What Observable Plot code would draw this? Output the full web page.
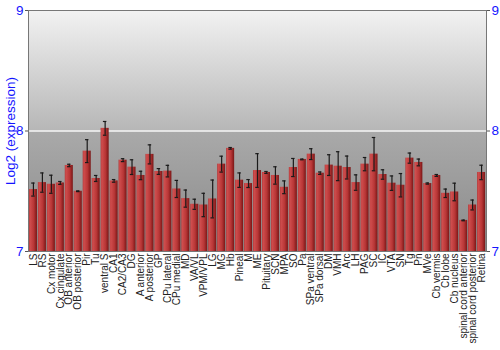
<!DOCTYPE html>
<html><head><meta charset="utf-8">
<script src="https://cdn.jsdelivr.net/npm/d3@7"></script>
<script src="https://cdn.jsdelivr.net/npm/@observablehq/plot@0.6"></script>
<style>
body{margin:0;background:#fff;}
#defs{position:absolute;left:0;top:0;width:0;height:0;}
</style>
</head><body>
<svg id="defs" width="0" height="0"><defs>
<linearGradient id="bg" x1="0" y1="0" x2="0" y2="1">
<stop offset="0" stop-color="#f2f2f2"/>
<stop offset="0.5" stop-color="#b6b6b6"/>
<stop offset="0.505" stop-color="#a9a9a9"/>
<stop offset="1" stop-color="#8a8a8a"/>
</linearGradient>
<linearGradient id="barGrad" x1="0" y1="0" x2="1" y2="0">
<stop offset="0" stop-color="#b03a3a"/>
<stop offset="0.15" stop-color="#cf4d4d"/>
<stop offset="0.6" stop-color="#b83636"/>
<stop offset="1" stop-color="#7a1616"/>
</linearGradient>
</defs></svg>
<div id="chart"></div>
<script>
const regions = ["LS","RS","Cx motor","Cx cingulate","OB anterior","OB posterior","Pir","Tu","ventral S","CA1","CA2/CA3","DG","A anterior","A posterior","GP","CPu lateral","CPu medial","MD","VA/VL","VPM/VPL","LG","MG","Hb","Pineal","M","ME","Pituitary","SCN","MPA","SO","Pa","SPa ventral","SPa dorsal","DM","VMH","Arc","LH","PAG","SC","IC","VTA","SN","Tg","Pn","MVe","Cb vermis","Cb lobe","Cb nucleus","spinal cord anterior","spinal cord posterior","Retina"];
const values = [7.514,7.572,7.558,7.569,7.714,7.500,7.833,7.606,8.022,7.586,7.758,7.700,7.631,7.806,7.664,7.667,7.519,7.439,7.392,7.386,7.436,7.725,7.856,7.592,7.564,7.672,7.656,7.631,7.533,7.697,7.764,7.808,7.650,7.717,7.708,7.697,7.572,7.725,7.808,7.639,7.567,7.550,7.775,7.739,7.564,7.631,7.483,7.494,7.258,7.386,7.656];
const errors = [0.054,0.080,0.075,0.012,0.010,0.003,0.095,0.025,0.057,0.011,0.012,0.061,0.035,0.079,0.024,0.048,0.071,0.071,0.042,0.097,0.157,0.066,0.007,0.060,0.033,0.140,0.008,0.072,0.053,0.075,0.003,0.045,0.010,0.086,0.120,0.095,0.064,0.055,0.138,0.039,0.060,0.097,0.042,0.028,0.005,0.008,0.035,0.073,0.003,0.041,0.060];
const yTicks = [7, 8, 9];
const yLabel = "Log2 (expression)";

const data = regions.map((r, i) => ({region: r, value: values[i], lo: values[i] - errors[i], hi: values[i] + errors[i]}));

const plot = Plot.plot({
  width: 500, height: 350,
  marginTop: 10, marginBottom: 99, marginLeft: 28, marginRight: 14,
  style: {fontFamily: "'Liberation Sans', Arial, sans-serif", background: "#fff", overflow: "visible"},
  x: {domain: regions, padding: 0.1, label: null},
  y: {domain: [7, 9], label: null},
  marks: [
    Plot.frame({fill: "url(#bg)", stroke: "none"}),
    Plot.ruleY([8], {stroke: "#f4f4f4", strokeWidth: 1.5}),
    Plot.barY(data, {x: "region", y1: 7, y2: "value", fill: "url(#barGrad)"}),
    Plot.ruleX(data, {x: "region", y1: "lo", y2: "hi", stroke: "#1a1a1a", strokeWidth: 1.2}),
    Plot.tickY(data, {x: "region", y: "lo", stroke: "#1a1a1a", strokeWidth: 1.2, insetLeft: 2.3, insetRight: 2.3}),
    Plot.tickY(data, {x: "region", y: "hi", stroke: "#1a1a1a", strokeWidth: 1.2, insetLeft: 2.3, insetRight: 2.3}),
    Plot.frame({stroke: "#777", fill: "none"}),
    Plot.axisX({tickRotate: -90, tickSize: 0, tickPadding: 2, fontSize: 10, fill: "#222", label: null}),
    Plot.axisY({anchor: "left", ticks: yTicks, tickFormat: d => String(d), tickSize: 3, tickPadding: 2, fontSize: 13.5, fill: "#1515ff", stroke: "#555",
      label: yLabel, labelAnchor: "center", labelArrow: "none", labelOffset: 23}),
    Plot.axisY({anchor: "right", ticks: yTicks, tickFormat: d => String(d), tickSize: 3, tickPadding: 2, fontSize: 13.5, fill: "#1515ff", stroke: "#555", label: null})
  ]
});
document.getElementById("chart").appendChild(plot);
</script>
</body></html>
